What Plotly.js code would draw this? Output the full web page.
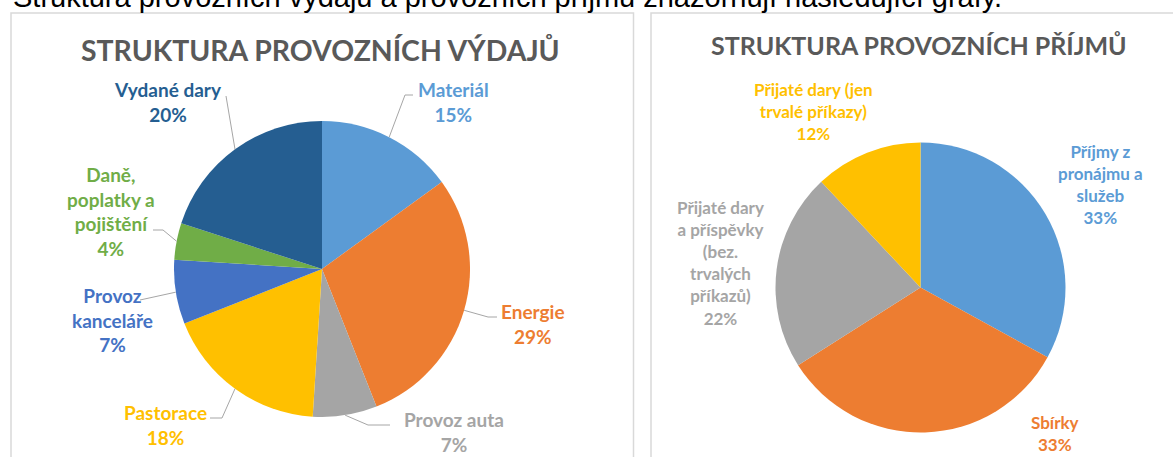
<!DOCTYPE html>
<html>
<head>
<meta charset="utf-8">
<script src="https://cdn.plot.ly/plotly-3.0.1.min.js"></script>
<style>
html,body{margin:0;padding:0;background:#fff;}
#chart{width:1173px;height:457px;}
</style>
</head>
<body>
<div id="chart"></div>
<script>
// ---------- DATA ----------
const expenseCategories = ["Materiál", "Energie", "Provoz auta", "Pastorace", "Provoz kanceláře", "Daně, poplatky a pojištění", "Vydané dary"];
const expenseValues = [15, 29, 7, 18, 7, 4, 20];
const expenseLabelLines = ["Materiál", "Energie", "Provoz auta", "Pastorace", "Provoz<br>kanceláře", "Daně,<br>poplatky a<br>pojištění", "Vydané dary"];

const incomeCategories = ["Příjmy z pronájmu a služeb", "Sbírky", "Přijaté dary a příspěvky (bez. trvalých příkazů)", "Přijaté dary (jen trvalé příkazy)"];
const incomeValues = [33, 33, 22, 12];
const incomeLabelLines = ["Příjmy z<br>pronájmu a<br>služeb", "Sbírky", "Přijaté dary<br>a příspěvky<br>(bez.<br>trvalých<br>příkazů)", "Přijaté dary (jen<br>trvalé příkazy)"];

const expenseTitle = "STRUKTURA PROVOZNÍCH VÝDAJŮ";
const incomeTitle = "STRUKTURA PROVOZNÍCH PŘÍJMŮ";
const pageSentence = "Struktura provozních výdajů a provozních příjmů znázorňují následující grafy.";

// ---------- STYLE / LAYOUT CONFIG ----------
const W = 1173, H = 457;
const expenseColors = ["#5B9BD5", "#ED7D31", "#A5A5A5", "#FFC000", "#4472C4", "#70AD47", "#255E91"];
const incomeColors = ["#5B9BD5", "#ED7D31", "#A5A5A5", "#FFC000"];

const pie1 = {cx: 322, cy: 269, r: 148};
const pie2 = {cx: 920.5, cy: 287.5, r: 145};

// label block centres (px)
const expenseLabelPos = [[453, 102], [533, 324], [454, 432], [165, 425], [112, 320], [111, 211], [168, 102]];
const incomeLabelPos = [[1100, 184], [1055, 433], [720, 263], [813, 111]];
// leader line elbow and end points (px)
const expenseLeaders = [
  [[405, 95], [413, 95]],
  [[488, 317], [497, 317]],
  [[368, 425], [390, 425]],
  [[222, 418], [210, 418]],
  [[140, 300]],
  [[163, 230], [153, 230]],
  [[226, 96]]
];

const px = x => x / W;
const py = y => 1 - y / H;

function domainFor(p) {
  return {x: [px(p.cx - p.r), px(p.cx + p.r)], y: [py(p.cy + p.r), py(p.cy - p.r)]};
}

const traces = [
  {
    type: "pie", labels: expenseCategories, values: expenseValues, sort: false,
    direction: "clockwise", rotation: 0, textinfo: "none", hoverinfo: "label+percent",
    marker: {colors: expenseColors, line: {width: 0}}, showlegend: false,
    domain: domainFor(pie1)
  },
  {
    type: "pie", labels: incomeCategories, values: incomeValues, sort: false,
    direction: "clockwise", rotation: 0, textinfo: "none", hoverinfo: "label+percent",
    marker: {colors: incomeColors, line: {width: 0}}, showlegend: false,
    domain: domainFor(pie2)
  }
];

const annotations = [];
const shapes = [];

function pct(v, vals) {
  const s = vals.reduce((a, b) => a + b, 0);
  return Math.round(v / s * 100) + "%";
}

function addLabels(lines, vals, colors, pos, size) {
  lines.forEach((t, i) => {
    annotations.push({
      x: px(pos[i][0]), y: py(pos[i][1]), xref: "paper", yref: "paper",
      xanchor: "center", yanchor: "middle", align: "center", showarrow: false,
      text: t + "<br>" + pct(vals[i], vals),
      font: {family: "Lato, 'Open Sans', sans-serif", size: size, color: colors[i], weight: "bold"}
    });
  });
}
addLabels(expenseLabelLines, expenseValues, expenseColors, expenseLabelPos, 19);
addLabels(incomeLabelLines, incomeValues, incomeColors, incomeLabelPos, 17);

// leader lines start at the slice edge at mid-angle, computed from values
(function () {
  const total = expenseValues.reduce((a, b) => a + b, 0);
  let cum = 0;
  expenseValues.forEach((v, i) => {
    const mid = (cum + v / 2) / total * 2 * Math.PI;
    cum += v;
    const leg = expenseLeaders[i];
    if (!leg) return;
    const sx = pie1.cx + pie1.r * Math.sin(mid);
    const sy = pie1.cy - pie1.r * Math.cos(mid);
    let path = "M" + px(sx) + "," + py(sy);
    leg.forEach(p => { path += " L" + px(p[0]) + "," + py(p[1]); });
    shapes.push({type: "path", xref: "paper", yref: "paper", path: path,
      line: {color: "#A6A6A6", width: 1}});
  });
})();

// titles
annotations.push({
  x: px(320), y: py(50), xref: "paper", yref: "paper", xanchor: "center", yanchor: "middle",
  showarrow: false, text: expenseTitle,
  font: {family: "Lato, 'Open Sans', sans-serif", size: 28.4, color: "#595959", weight: "bold"}
});
annotations.push({
  x: px(919), y: py(45), xref: "paper", yref: "paper", xanchor: "center", yanchor: "middle",
  showarrow: false, text: incomeTitle,
  font: {family: "Lato, 'Open Sans', sans-serif", size: 25, color: "#595959", weight: "bold"}
});
// page sentence (cut at top, as in the source page)
annotations.push({
  x: px(11), y: py(-3), xref: "paper", yref: "paper", xanchor: "left", yanchor: "middle",
  showarrow: false, text: pageSentence,
  font: {family: "'Liberation Sans', Arial, sans-serif", size: 29, color: "#000000"}
});

// chart frames
shapes.push({type: "rect", xref: "paper", yref: "paper", x0: px(11), x1: px(633.5), y0: py(470), y1: py(13),
  line: {color: "#D9D9D9", width: 1.5}, fillcolor: "rgba(0,0,0,0)", layer: "below"});
shapes.push({type: "rect", xref: "paper", yref: "paper", x0: px(651), x1: px(1190), y0: py(470), y1: py(13),
  line: {color: "#D9D9D9", width: 1.5}, fillcolor: "rgba(0,0,0,0)", layer: "below"});

const layout = {
  width: W, height: H,
  margin: {l: 0, r: 0, t: 0, b: 0},
  paper_bgcolor: "#ffffff", plot_bgcolor: "#ffffff",
  showlegend: false,
  annotations: annotations,
  shapes: shapes
};

Plotly.newPlot("chart", traces, layout, {displayModeBar: false, staticPlot: true});
</script>
</body>
</html>
